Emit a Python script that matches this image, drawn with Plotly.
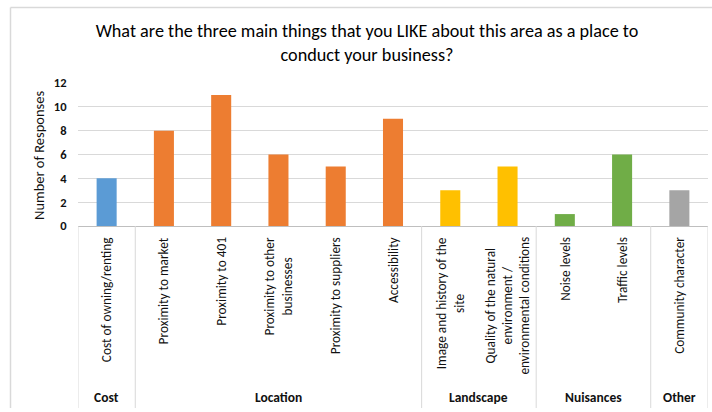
import plotly.graph_objects as go

# Survey responses: what businesses like about the area
categories = [
    "Cost of owning/renting",
    "Proximity to market",
    "Proximity to 401",
    "Proximity to other<br>businesses",
    "Proximity to suppliers",
    "Accessibility",
    "Image and history of the<br>site",
    "Quality of the natural<br>environment /<br>environmental conditions",
    "Noise levels",
    "Traffic levels",
    "Community character",
]
category_groups = [
    "Cost", "Location", "Location", "Location", "Location", "Location",
    "Landscape", "Landscape", "Nuisances", "Nuisances", "Other",
]
responses = [4, 8, 11, 6, 5, 9, 3, 5, 1, 6, 3]
group_names = ["Cost", "Location", "Landscape", "Nuisances", "Other"]
group_colors = {
    "Cost": "#5B9BD5",
    "Location": "#ED7D31",
    "Landscape": "#FFC000",
    "Nuisances": "#70AD47",
    "Other": "#A5A5A5",
}
y_ticks = [0, 2, 4, 6, 8, 10, 12]

FONT = "Calibri, Carlito, Lato, sans-serif"
TEXT = "#111111"
GRID = "#D9D9D9"

fig = go.Figure(
    go.Bar(
        x=list(range(len(categories))),
        y=responses,
        marker=dict(color=[group_colors[g] for g in category_groups], line_width=0),
        width=0.35,
        hoverinfo="y",
    )
)

# pixel geometry of the plot area
W, H = 712, 412
ML, MR, MT, MB = 78, 4, 83, 186
plot_h = H - MT - MB
cat_axis_depth = 182  # depth of the two-level category axis below the plot


def px_to_paper(px):
    return -px / plot_h


annotations = []
# rotated category labels
for i, label in enumerate(categories):
    annotations.append(dict(
        x=i, y=0, xref="x", yref="paper",
        text=label, textangle=-90, showarrow=False,
        xanchor="center", yanchor="top", yshift=-9, align="center",
        font=dict(family=FONT, size=13.3, color=TEXT),
    ))

# group labels and group dividers
shapes = []
boundaries = [-0.5]
for g in group_names:
    idx = [i for i, cg in enumerate(category_groups) if cg == g]
    annotations.append(dict(
        x=(idx[0] + idx[-1]) / 2, y=0, xref="x", yref="paper",
        text=f"<b>{g}</b>", showarrow=False,
        xanchor="center", yanchor="middle", yshift=-171,
        font=dict(family=FONT, size=13.5, color=TEXT),
    ))
    boundaries.append(idx[-1] + 0.5)

for b in boundaries:
    shapes.append(dict(
        type="line", xref="x", yref="paper",
        x0=b, x1=b, y0=0, y1=px_to_paper(cat_axis_depth),
        line=dict(color=GRID, width=1),
    ))

# outer chart frame (left and top edges)
frame_x = -(ML - 10.5) / (W - ML - MR)
frame_top = 1 + (MT - 7.5) / plot_h
shapes.append(dict(
    type="line", xref="paper", yref="paper",
    x0=frame_x, x1=1.1, y0=frame_top, y1=frame_top,
    line=dict(color=GRID, width=1.5),
))
shapes.append(dict(
    type="line", xref="paper", yref="paper",
    x0=frame_x, x1=frame_x, y0=frame_top, y1=px_to_paper(cat_axis_depth),
    line=dict(color=GRID, width=1.5),
))

# y axis title
annotations.append(dict(
    x=-(ML - 39) / (W - ML - MR), y=0.49, xref="paper", yref="paper",
    text="Number of Responses", textangle=-90, showarrow=False,
    xanchor="center", yanchor="middle",
    font=dict(family=FONT, size=14.5, color=TEXT),
))

fig.update_layout(
    width=W, height=H,
    margin=dict(l=ML, r=MR, t=MT, b=MB, pad=0),
    paper_bgcolor="white", plot_bgcolor="white",
    showlegend=False,
    title=dict(
        text="What are the three main things that you LIKE about this area as a place to<br>conduct your business?",
        x=367 / W, xref="container", xanchor="center",
        y=1 - 37 / H, yref="container", yanchor="middle",
        font=dict(family=FONT, size=18.2, color="#000000"),
    ),
    xaxis=dict(
        range=[-0.5, len(categories) - 0.5],
        showticklabels=False, showgrid=False, zeroline=False,
        showline=True, linecolor="#BFBFBF", linewidth=1,
        ticks="", fixedrange=True,
    ),
    yaxis=dict(
        range=[0, 12], tickvals=y_ticks,
        ticktext=[f"<b>{v}</b>" for v in y_ticks],
        showgrid=True, gridcolor=GRID, gridwidth=1,
        zeroline=False, showline=False,
        ticks="outside", ticklen=8, tickcolor="rgba(0,0,0,0)",
        tickfont=dict(family=FONT, size=12.5, color=TEXT),
        fixedrange=True,
    ),
    annotations=annotations,
    shapes=shapes,
)

fig.write_html("out.html")
